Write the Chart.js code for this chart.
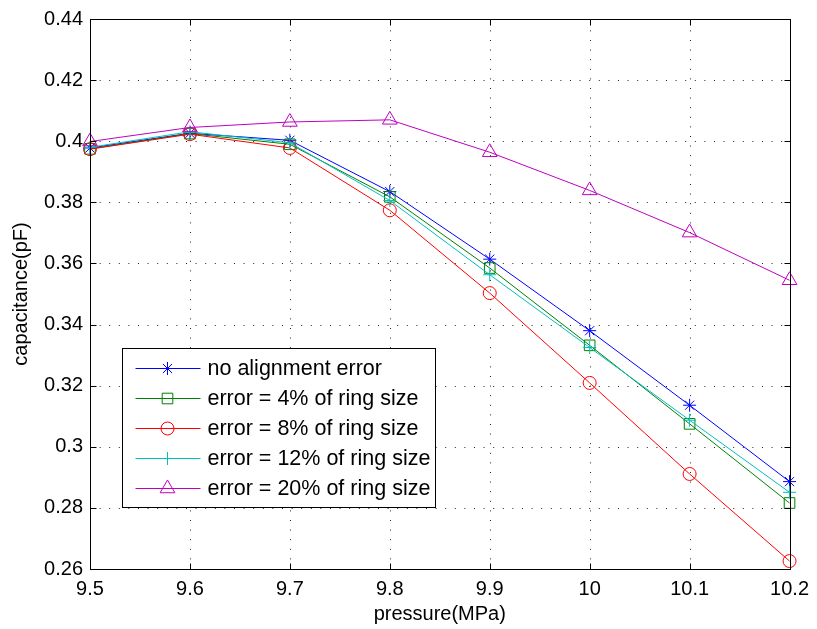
<!DOCTYPE html>
<html><head><meta charset="utf-8">
<style>html,body{margin:0;padding:0;background:#fff;}canvas{display:block;}</style>
<script src="https://cdn.jsdelivr.net/npm/chart.js@4.4.1/dist/chart.umd.min.js"></script>
</head><body>
<canvas id="c" width="817" height="629" style="width:817px;height:629px"></canvas>
<script>
// ---- data ----
const pressure = [9.5, 9.6, 9.7, 9.8, 9.9, 10.0, 10.1, 10.2];
const noError   = [0.3978, 0.4026, 0.4003, 0.3835, 0.3614, 0.3380, 0.3136, 0.2886];
const error4    = [0.3975, 0.4025, 0.3990, 0.3818, 0.3585, 0.3332, 0.3075, 0.2816];
const error8    = [0.3974, 0.4023, 0.3978, 0.3774, 0.3503, 0.3209, 0.2911, 0.2626];
const error12   = [0.3980, 0.4031, 0.3995, 0.3806, 0.3563, 0.3325, 0.3087, 0.2851];
const error20   = [0.3999, 0.4045, 0.4063, 0.4070, 0.3964, 0.3839, 0.3701, 0.3545];
const seriesLabels = ['no alignment error', 'error = 4% of ring size', 'error = 8% of ring size',
                      'error = 12% of ring size', 'error = 20% of ring size'];
const xTicks = [9.5, 9.6, 9.7, 9.8, 9.9, 10.0, 10.1, 10.2];
const xTickLabels = ['9.5', '9.6', '9.7', '9.8', '9.9', '10', '10.1', '10.2'];
const yTicks = [0.26, 0.28, 0.30, 0.32, 0.34, 0.36, 0.38, 0.40, 0.42, 0.44];
const yTickLabels = ['0.26', '0.28', '0.3', '0.32', '0.34', '0.36', '0.38', '0.4', '0.42', '0.44'];
const xTitle = 'pressure(MPa)';
const yTitle = 'capacitance(pF)';

// ---- styles ----
const FONT = '"Liberation Sans", Arial, Helvetica, sans-serif';
const FS = 20;
const LEGEND_FS = 21.5;
const styles = [
  {color: '#0000ff', pointStyle: 'star',     radius: 6.5, order: 4},
  {color: '#008000', pointStyle: 'rect',     radius: 7.5, order: 3},
  {color: '#ff0000', pointStyle: 'circle',   radius: 6.5, order: 2},
  {color: '#00bfbf', pointStyle: 'cross',    radius: 6.5, order: 1},
  {color: '#bf00bf', pointStyle: 'triangle', radius: 8.5, order: 0}
];
const series = [noError, error4, error8, error12, error20];

const datasets = series.map((vals, i) => ({
  label: seriesLabels[i],
  data: vals.map((v, j) => ({x: pressure[j], y: v})),
  borderColor: styles[i].color,
  backgroundColor: 'rgba(0,0,0,0)',
  pointBorderColor: styles[i].color,
  pointBackgroundColor: 'rgba(0,0,0,0)',
  pointStyle: styles[i].pointStyle,
  pointRadius: styles[i].radius,
  pointHoverRadius: styles[i].radius,
  pointBorderWidth: 1,
  borderWidth: 1,
  tension: 0,
  fill: false,
  clip: false,
  order: styles[i].order
}));

function drawMarker(ctx, style, radius, x, y) {
  if (Chart.helpers && Chart.helpers.drawPoint) {
    Chart.helpers.drawPoint(ctx, {pointStyle: style, rotation: 0, radius: radius, borderWidth: 1}, x, y);
    return;
  }
  ctx.beginPath();
  if (style === 'circle') { ctx.arc(x, y, radius, 0, Math.PI * 2); }
  else if (style === 'rect') { const s = radius * Math.SQRT1_2; ctx.rect(x - s, y - s, 2 * s, 2 * s); }
  else if (style === 'triangle') {
    for (let k = 0; k < 3; k++) { const a = k * 2 * Math.PI / 3; const px = x + Math.sin(a) * radius, py = y - Math.cos(a) * radius; k ? ctx.lineTo(px, py) : ctx.moveTo(px, py); }
    ctx.closePath();
  } else {
    ctx.moveTo(x - radius, y); ctx.lineTo(x + radius, y); ctx.moveTo(x, y - radius); ctx.lineTo(x, y + radius);
    if (style === 'star') { const d = radius * Math.SQRT1_2; ctx.moveTo(x - d, y - d); ctx.lineTo(x + d, y + d); ctx.moveTo(x - d, y + d); ctx.lineTo(x + d, y - d); }
  }
  ctx.stroke();
}

const framePlugin = {
  id: 'matlabFrame',
  beforeDatasetsDraw(chart) {
    const {ctx, chartArea: a, scales: {x, y}} = chart;
    ctx.save();
    ctx.strokeStyle = '#222';
    ctx.lineWidth = 1;
    ctx.setLineDash([1, 8.6]);
    xTicks.forEach(v => {
      const px = Math.round(x.getPixelForValue(v)) + 0.5;
      if (px <= a.left + 2 || px >= a.right - 2) return;
      ctx.beginPath(); ctx.moveTo(px, a.bottom); ctx.lineTo(px, a.top); ctx.stroke();
    });
    yTicks.forEach(v => {
      const py = Math.round(y.getPixelForValue(v)) + 0.5;
      if (py <= a.top + 2 || py >= a.bottom - 2) return;
      ctx.beginPath(); ctx.moveTo(a.left, py); ctx.lineTo(a.right, py); ctx.stroke();
    });
    ctx.restore();
  },
  afterDatasetsDraw(chart) {
    const {ctx, chartArea: a, scales: {x, y}} = chart;
    const L = Math.round(a.left) + 0.5, R = Math.round(a.right) + 0.5;
    const T = Math.round(a.top) + 0.5, B = Math.round(a.bottom) + 0.5;
    ctx.save();
    ctx.strokeStyle = '#000';
    ctx.lineWidth = 1;
    ctx.setLineDash([]);
    ctx.strokeRect(L, T, R - L, B - T);
    const tl = 6;
    ctx.beginPath();
    xTicks.forEach(v => {
      const px = Math.round(x.getPixelForValue(v)) + 0.5;
      ctx.moveTo(px, B); ctx.lineTo(px, B - tl);
      ctx.moveTo(px, T); ctx.lineTo(px, T + tl);
    });
    yTicks.forEach(v => {
      const py = Math.round(y.getPixelForValue(v)) + 0.5;
      ctx.moveTo(L, py); ctx.lineTo(L + tl, py);
      ctx.moveTo(R, py); ctx.lineTo(R - tl, py);
    });
    ctx.stroke();

    // legend (inside the axes, lower left)
    const bx = L + 32, by = 348.5, bw = 313, bh = 159;
    ctx.fillStyle = '#fff';
    ctx.fillRect(bx, by, bw, bh);
    ctx.strokeRect(bx, by, bw, bh);
    ctx.font = LEGEND_FS + 'px ' + FONT;
    ctx.textBaseline = 'middle';
    ctx.textAlign = 'left';
    chart.data.datasets.forEach((ds, i) => {
      const ry = Math.round(by + 19.5 + i * 30) + 0.5;
      ctx.strokeStyle = ds.borderColor;
      ctx.lineWidth = 1;
      ctx.beginPath(); ctx.moveTo(bx + 13, ry); ctx.lineTo(bx + 78, ry); ctx.stroke();
      ctx.fillStyle = 'rgba(0,0,0,0)';
      drawMarker(ctx, ds.pointStyle, ds.pointRadius, bx + 45, ry);
      ctx.fillStyle = '#000';
      ctx.fillText(ds.label, bx + 85, ry + 1);
    });
    ctx.restore();
  }
};

new Chart(document.getElementById('c'), {
  type: 'line',
  data: {datasets: datasets},
  options: {
    responsive: false,
    animation: false,
    devicePixelRatio: 1,
    layout: {padding: {left: 0, right: 23, top: 14, bottom: 0}},
    plugins: {legend: {display: false}, tooltip: {enabled: false}, title: {display: false}},
    scales: {
      x: {
        type: 'linear', min: 9.5, max: 10.2,
        afterBuildTicks: s => { s.ticks = xTicks.map(v => ({value: v})); },
        afterFit: s => { s.height = 60; },
        ticks: {
          autoSkip: false, maxRotation: 0, padding: 8, color: '#000',
          font: {family: FONT, size: FS},
          callback: (v, idx) => xTickLabels[idx]
        },
        grid: {display: false, drawTicks: false},
        border: {display: false},
        title: {display: true, text: xTitle, color: '#000', font: {family: FONT, size: FS}, padding: {top: 0, bottom: 3}}
      },
      y: {
        type: 'linear', min: 0.26, max: 0.44,
        afterBuildTicks: s => { s.ticks = yTicks.map(v => ({value: v})); },
        afterFit: s => { s.width = 90; },
        ticks: {
          autoSkip: false, padding: 7, color: '#000',
          font: {family: FONT, size: FS},
          callback: (v, idx) => yTickLabels[idx]
        },
        grid: {display: false, drawTicks: false},
        border: {display: false},
        title: {display: true, text: yTitle, color: '#000', font: {family: FONT, size: FS}, padding: {top: 9, bottom: 0}}
      }
    }
  },
  plugins: [framePlugin]
});
</script>
</body></html>
